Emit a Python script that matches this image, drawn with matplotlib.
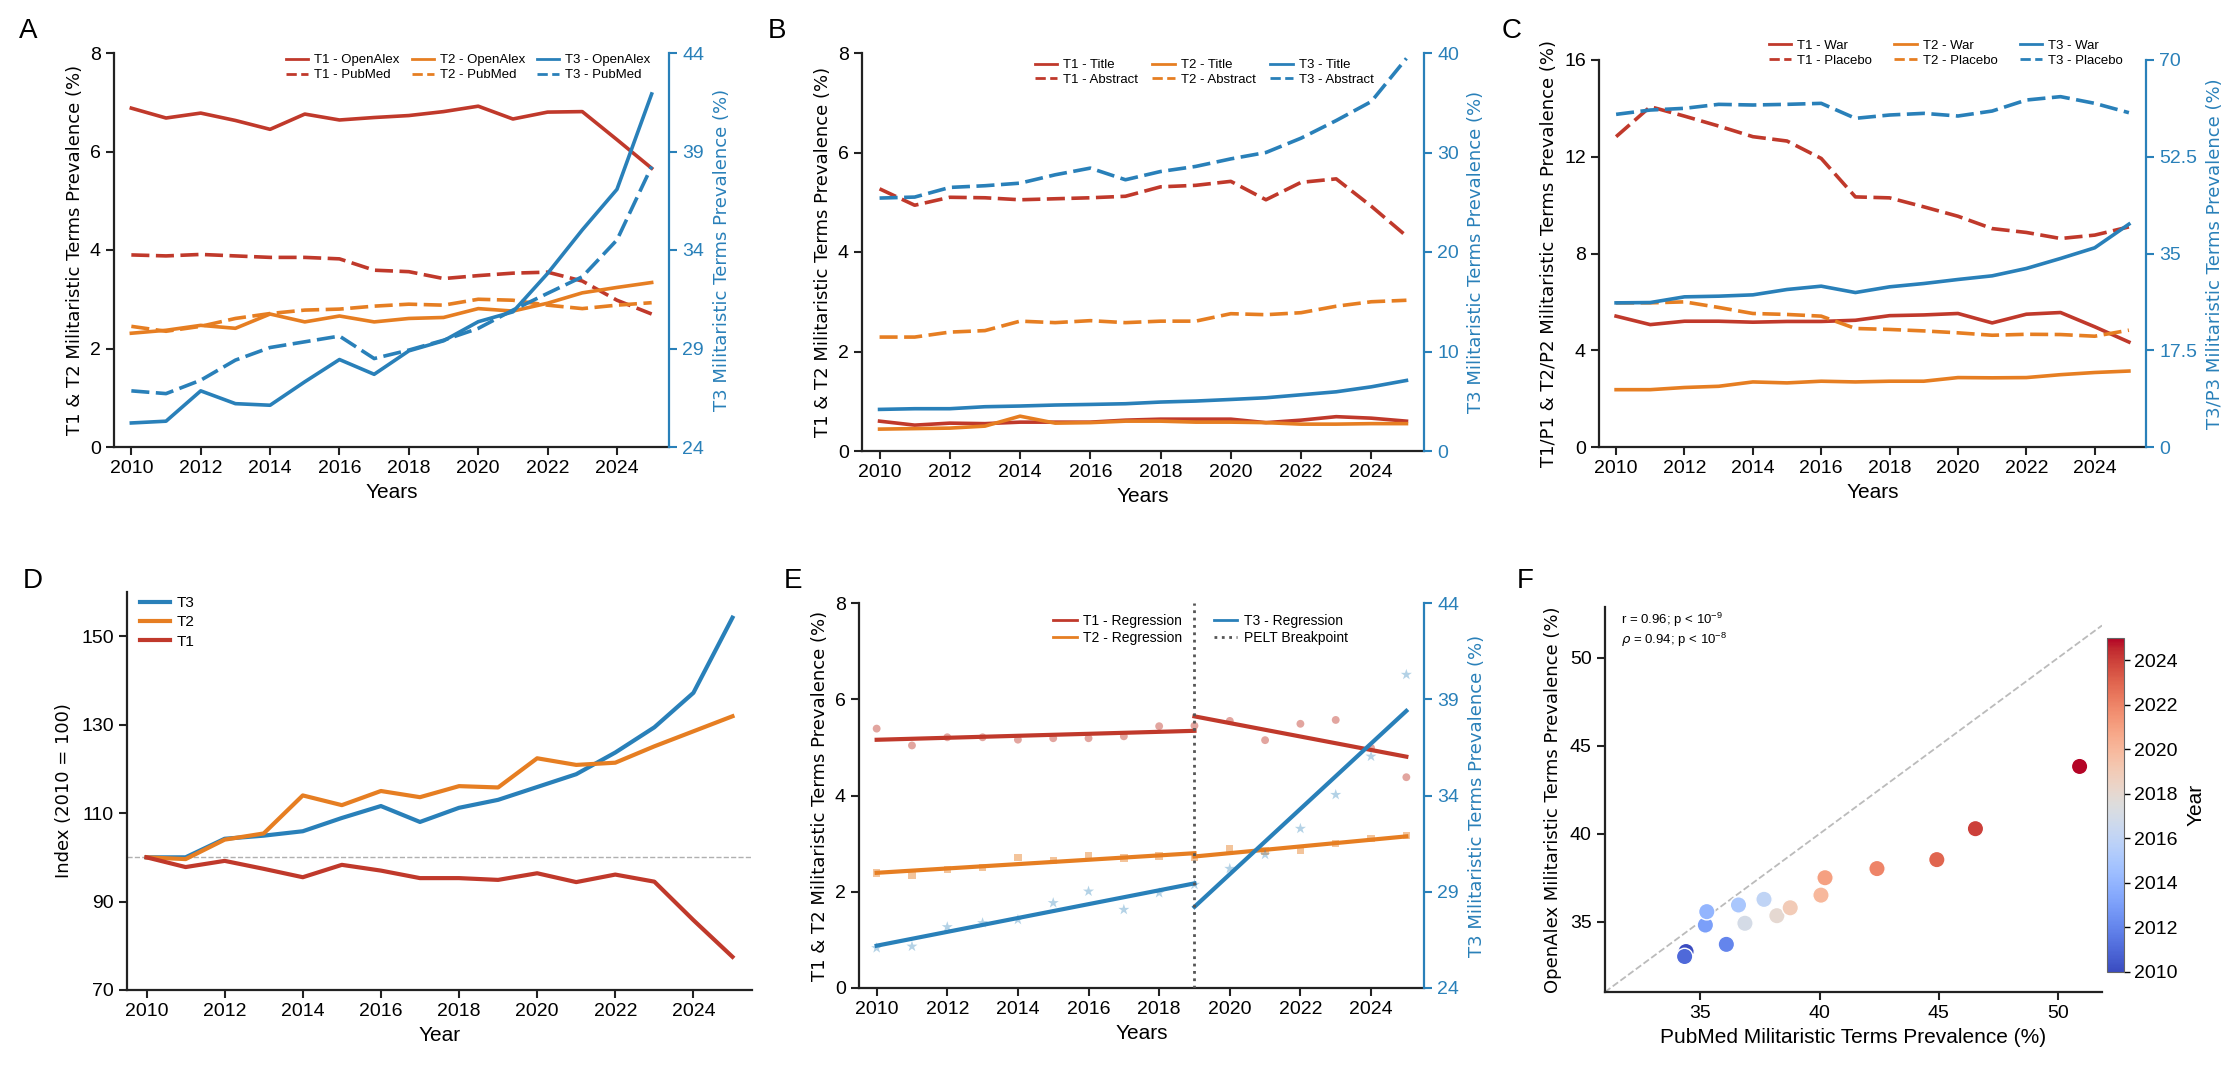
import numpy as np
import matplotlib
matplotlib.use('Agg')
import matplotlib.pyplot as plt
from matplotlib.lines import Line2D

RED = '#c0392b'
ORANGE = '#e67e22'
BLUE = '#2980b9'
W, H = 2240, 1082

years = np.arange(2010, 2026)
xtick_years = np.arange(2010, 2025, 2)

# panel A - OpenAlex vs PubMed
a_t1_openalex = [6.88, 6.68, 6.78, 6.63, 6.45, 6.76, 6.64, 6.69, 6.73, 6.81, 6.92, 6.66, 6.80, 6.81, 6.24, 5.66]
a_t1_pubmed = [3.90, 3.88, 3.91, 3.88, 3.85, 3.85, 3.82, 3.59, 3.56, 3.42, 3.48, 3.53, 3.55, 3.37, 2.98, 2.70]
a_t2_openalex = [2.31, 2.37, 2.47, 2.41, 2.70, 2.54, 2.66, 2.54, 2.61, 2.63, 2.81, 2.76, 2.92, 3.13, 3.24, 3.34]
a_t2_pubmed = [2.45, 2.35, 2.45, 2.61, 2.71, 2.78, 2.80, 2.86, 2.90, 2.88, 3.00, 2.98, 2.88, 2.81, 2.88, 2.93]
a_t3_openalex = [25.22, 25.31, 26.85, 26.20, 26.12, 27.31, 28.44, 27.69, 28.88, 29.39, 30.36, 30.86, 32.81, 35.02, 37.08, 41.92]
a_t3_pubmed = [26.85, 26.71, 27.39, 28.41, 29.05, 29.34, 29.63, 28.49, 28.92, 29.42, 30.02, 30.95, 31.80, 32.64, 34.51, 38.24]

# panel B - title vs abstract
b_t1_title = [0.60, 0.52, 0.56, 0.55, 0.58, 0.58, 0.58, 0.62, 0.64, 0.64, 0.64, 0.57, 0.62, 0.69, 0.66, 0.60]
b_t1_abstract = [5.27, 4.94, 5.10, 5.09, 5.05, 5.07, 5.09, 5.12, 5.31, 5.34, 5.42, 5.05, 5.40, 5.47, 4.92, 4.32]
b_t2_title = [0.44, 0.45, 0.46, 0.50, 0.70, 0.56, 0.57, 0.60, 0.60, 0.58, 0.58, 0.57, 0.54, 0.54, 0.55, 0.55]
b_t2_abstract = [2.29, 2.29, 2.39, 2.42, 2.61, 2.58, 2.62, 2.58, 2.61, 2.61, 2.76, 2.74, 2.78, 2.91, 3.00, 3.03]
b_t3_title = [4.18, 4.25, 4.25, 4.45, 4.52, 4.62, 4.68, 4.75, 4.92, 5.02, 5.18, 5.35, 5.65, 5.95, 6.45, 7.09]
b_t3_abstract = [25.42, 25.52, 26.49, 26.66, 26.92, 27.76, 28.43, 27.26, 28.09, 28.60, 29.36, 30.00, 31.44, 33.21, 35.12, 39.46]

# panel C - war vs placebo
c_t1_war = [5.41, 5.06, 5.20, 5.20, 5.16, 5.19, 5.19, 5.24, 5.43, 5.46, 5.52, 5.13, 5.49, 5.56, 4.97, 4.34]
c_t1_placebo = [12.83, 14.07, 13.68, 13.27, 12.83, 12.65, 11.93, 10.34, 10.30, 9.93, 9.54, 9.03, 8.87, 8.62, 8.76, 9.10]
c_t2_war = [2.37, 2.37, 2.46, 2.51, 2.69, 2.65, 2.72, 2.69, 2.72, 2.72, 2.87, 2.86, 2.87, 2.99, 3.08, 3.14]
c_t2_placebo = [5.96, 5.96, 6.00, 5.77, 5.52, 5.48, 5.41, 4.90, 4.86, 4.80, 4.72, 4.62, 4.66, 4.65, 4.58, 4.83]
c_t3_war = [26.07, 26.13, 27.16, 27.28, 27.52, 28.49, 29.09, 27.94, 28.97, 29.57, 30.30, 30.96, 32.29, 34.10, 36.03, 40.31]
c_t3_placebo = [60.17, 60.95, 61.26, 61.98, 61.86, 61.98, 62.16, 59.45, 60.05, 60.35, 59.87, 60.77, 62.76, 63.37, 62.16, 60.47]
c_right_ticks = [0, 17.5, 35, 52.5, 70]

# panel D - index (2010 = 100)
d_t3 = [100.0, 100.0, 104.2, 104.9, 105.9, 108.9, 111.6, 108.0, 111.2, 113.0, 115.9, 118.8, 123.7, 129.4, 137.2, 154.2]
d_t2 = [100.0, 99.6, 104.0, 105.4, 114.0, 111.8, 115.0, 113.6, 116.1, 115.8, 122.4, 120.9, 121.4, 125.1, 128.5, 131.9]
d_t1 = [100.0, 97.8, 99.2, 97.4, 95.5, 98.3, 97.0, 95.3, 95.3, 94.9, 96.4, 94.4, 96.1, 94.5, 85.8, 77.5]

# panel E - segmented regression
e_t1 = [5.39, 5.04, 5.21, 5.21, 5.16, 5.19, 5.19, 5.23, 5.44, 5.45, 5.55, 5.15, 5.49, 5.57, 4.99, 4.38]
e_t2 = [2.39, 2.35, 2.46, 2.51, 2.71, 2.65, 2.75, 2.70, 2.74, 2.71, 2.89, 2.85, 2.87, 3.00, 3.10, 3.17]
e_t3 = [26.08, 26.16, 27.17, 27.38, 27.55, 28.42, 29.02, 28.07, 28.94, 29.37, 30.20, 30.93, 32.28, 34.04, 36.03, 40.28]
breakpoint_year = 2019

# panel F - PubMed vs OpenAlex
f_pubmed = [34.40, 34.34, 36.09, 35.21, 35.27, 36.60, 37.67, 36.87, 38.21, 38.77, 40.06, 40.23, 42.41, 44.92, 46.54, 50.91]
f_openalex = [33.30, 33.02, 33.71, 34.81, 35.57, 35.95, 36.27, 34.91, 35.34, 35.79, 36.51, 37.50, 38.02, 38.53, 40.29, 43.83]

plt.rcParams['font.family'] = ['Liberation Sans', 'DejaVu Sans']
plt.rcParams['mathtext.fontset'] = 'custom'
plt.rcParams['mathtext.rm'] = 'Liberation Sans'
plt.rcParams['mathtext.it'] = 'DejaVu Sans:italic'

fig = plt.figure(figsize=(W / 100, H / 100), dpi=100)


def box(left, top, right, bottom):
    return [left / W, 1 - bottom / H, (right - left) / W, (bottom - top) / H]


def style_axes(ax):
    ax.spines['top'].set_visible(False)
    ax.spines['right'].set_visible(False)
    for s in ('left', 'bottom'):
        ax.spines[s].set_linewidth(1.6)
        ax.spines[s].set_color('#222222')
    ax.tick_params(labelsize=14, width=1.5, length=6, color='#222222')


def add_twin(ax):
    ax2 = ax.twinx()
    for s in ('top', 'left', 'bottom'):
        ax2.spines[s].set_visible(False)
    ax2.spines['right'].set_color(BLUE)
    ax2.spines['right'].set_linewidth(1.6)
    ax2.tick_params(axis='y', colors=BLUE, labelsize=14, width=1.5, length=6)
    return ax2


def ylab(ax, text, color='black', pad=4):
    ax.set_ylabel(text, fontsize=13, family='DejaVu Sans', color=color, labelpad=pad)


def year_axis(ax, label='Years'):
    ax.set_xlim(2009.5, 2025.5)
    ax.set_xticks(xtick_years)
    ax.set_xlabel(label, fontsize=15)


def handle(color, ls='-'):
    return Line2D([], [], color=color, lw=2, ls=ls)


DASH = (0, (5, 1.8))
LW = 2.6


def two_source_panel(pos, left_series, right_series, names, ylim_l, yticks_l, ylim_r, yticks_r,
                     left_label, right_label, leg_anchor, colspace):
    ax = fig.add_axes(pos)
    style_axes(ax)
    (l1a, l1b), (l2a, l2b) = left_series
    ax.plot(years, l1a, color=RED, lw=LW)
    ax.plot(years, l1b, color=RED, lw=LW, ls=DASH)
    ax.plot(years, l2a, color=ORANGE, lw=LW)
    ax.plot(years, l2b, color=ORANGE, lw=LW, ls=DASH)
    ax.set_ylim(*ylim_l)
    ax.set_yticks(yticks_l)
    year_axis(ax)
    ylab(ax, left_label)
    ax2 = add_twin(ax)
    r_a, r_b = right_series
    ax2.plot(years, r_a, color=BLUE, lw=LW)
    ax2.plot(years, r_b, color=BLUE, lw=LW, ls=DASH)
    ax2.set_ylim(*ylim_r)
    ax2.set_yticks(yticks_r)
    ax2.set_yticklabels(['%g' % t for t in yticks_r])
    ylab(ax2, right_label, color=BLUE, pad=6)
    hs, ls = [], []
    for tag, col in (('T1', RED), ('T2', ORANGE), ('T3', BLUE)):
        hs += [handle(col), handle(col, '--')]
        ls += ['%s - %s' % (tag, names[0]), '%s - %s' % (tag, names[1])]
    ax2.legend(hs, ls, ncol=3, fontsize=9.5, frameon=False, loc='upper right',
               bbox_to_anchor=leg_anchor, handlelength=1.7, handletextpad=0.45,
               columnspacing=colspace, labelspacing=0.2, borderpad=0, borderaxespad=0)
    return ax, ax2


left_lab = 'T1 & T2 Militaristic Terms Prevalence (%)'
right_lab = 'T3 Militaristic Terms Prevalence (%)'

# A
two_source_panel(box(114, 53, 669, 447),
                 [(a_t1_openalex, a_t1_pubmed), (a_t2_openalex, a_t2_pubmed)],
                 (a_t3_openalex, a_t3_pubmed), ('OpenAlex', 'PubMed'),
                 (0, 8), [0, 2, 4, 6, 8], (24, 44), [24, 29, 34, 39, 44],
                 left_lab, right_lab, (0.967, 0.997), 0.9)

# B
two_source_panel(box(862, 53, 1424, 451),
                 [(b_t1_title, b_t1_abstract), (b_t2_title, b_t2_abstract)],
                 (b_t3_title, b_t3_abstract), ('Title', 'Abstract'),
                 (0, 8), [0, 2, 4, 6, 8], (0, 40), [0, 10, 20, 30, 40],
                 left_lab, right_lab, (0.91, 0.985), 1.1)

# C
two_source_panel(box(1599, 60, 2146, 447),
                 [(c_t1_war, c_t1_placebo), (c_t2_war, c_t2_placebo)],
                 (c_t3_war, c_t3_placebo), ('War', 'Placebo'),
                 (0, 16), [0, 4, 8, 12, 16], (0, 70), c_right_ticks,
                 'T1/P1 & T2/P2 Militaristic Terms Prevalence (%)',
                 'T3/P3 Militaristic Terms Prevalence (%)', (0.958, 1.052), 1.7)

# D
axd = fig.add_axes(box(127, 592, 752, 990))
style_axes(axd)
axd.axhline(100, color='#b0b0b0', ls='--', lw=1, zorder=1)
axd.plot(years, d_t3, color=BLUE, lw=3, label='T3')
axd.plot(years, d_t2, color=ORANGE, lw=3, label='T2')
axd.plot(years, d_t1, color=RED, lw=3, label='T1')
axd.set_ylim(70, 160)
axd.set_yticks([70, 90, 110, 130, 150])
year_axis(axd, 'Year')
ylab(axd, 'Index (2010 = 100)', pad=6)
axd.legend(loc='upper left', bbox_to_anchor=(0.02, 0.99), frameon=False, fontsize=11,
           handlelength=2.0, handletextpad=0.4, labelspacing=0.35, borderpad=0, borderaxespad=0)

# E
axe = fig.add_axes(box(859, 603, 1424, 988))
style_axes(axe)
axe.scatter(years, e_t1, marker='o', s=32, color=RED, alpha=0.45, edgecolors='none')
axe.scatter(years, e_t2, marker='s', s=28, color=ORANGE, alpha=0.45, edgecolors='none')
axe.set_ylim(0, 8)
axe.set_yticks([0, 2, 4, 6, 8])
year_axis(axe)
ylab(axe, left_lab)
axe2 = add_twin(axe)
axe2.scatter(years, e_t3, marker='*', s=70, color=BLUE, alpha=0.35, edgecolors='none')
axe2.set_ylim(24, 44)
axe2.set_yticks([24, 29, 34, 39, 44])
ylab(axe2, right_lab, color=BLUE, pad=6)

for lo, hi in ((2010, breakpoint_year), (breakpoint_year, 2025)):
    m = (years >= lo) & (years <= hi)
    seg = np.array([lo, hi])
    for ax_, vals, col in ((axe, e_t1, RED), (axe, e_t2, ORANGE), (axe2, e_t3, BLUE)):
        k, b = np.polyfit(years[m], np.asarray(vals)[m], 1)
        ax_.plot(seg, k * seg + b, color=col, lw=3)
axe2.axvline(breakpoint_year, color='#555555', ls=':', lw=2)
axe2.legend([handle(RED), handle(ORANGE), handle(BLUE), Line2D([], [], color='#555555', lw=2, ls=':')],
            ['T1 - Regression', 'T2 - Regression', 'T3 - Regression', 'PELT Breakpoint'],
            ncol=2, fontsize=10, frameon=False, loc='upper right', bbox_to_anchor=(0.865, 0.972),
            handlelength=1.7, handletextpad=0.45, columnspacing=2.3, labelspacing=0.2,
            borderpad=0, borderaxespad=0)

# F
axf = fig.add_axes(box(1605, 607, 2102, 992))
style_axes(axf)
lo_f, hi_f = 31, 51.85
axf.plot([lo_f, hi_f], [lo_f, hi_f], color='#bbbbbb', ls='--', lw=1.3, zorder=1)
sc = axf.scatter(f_pubmed, f_openalex, c=years, cmap='coolwarm', vmin=2010, vmax=2025,
                 s=140, edgecolors='white', linewidths=1, zorder=3)
axf.set_xlim(lo_f, hi_f)
axf.set_ylim(31, 52.9)
axf.set_xticks([35, 40, 45, 50])
axf.set_yticks([35, 40, 45, 50])
axf.set_xlabel('PubMed Militaristic Terms Prevalence (%)', fontsize=15)
ylab(axf, 'OpenAlex Militaristic Terms Prevalence (%)', pad=6)
axf.text(0.032, 0.99, 'r = 0.96; p < 10$^{-9}$\n$\\rho$ = 0.94; p < 10$^{-8}$',
         transform=axf.transAxes, va='top', ha='left', fontsize=9.5, linespacing=1.15)

cax = fig.add_axes(box(2107, 638, 2124, 972))
cb = fig.colorbar(sc, cax=cax, ticks=np.arange(2010, 2025, 2))
cb.outline.set_linewidth(0.8)
cb.outline.set_edgecolor('#666666')
cb.ax.tick_params(labelsize=14, width=1, length=4)
cb.set_label('Year', fontsize=15, labelpad=6)

# panel letters
for letter, x, y in (('A', 19, 38), ('B', 768, 38), ('C', 1502, 38),
                     ('D', 23, 588), ('E', 784, 588), ('F', 1517, 588)):
    fig.text(x / W, 1 - y / H, letter, fontsize=20, va='baseline', ha='left')

fig.savefig('out.png', dpi=100)
